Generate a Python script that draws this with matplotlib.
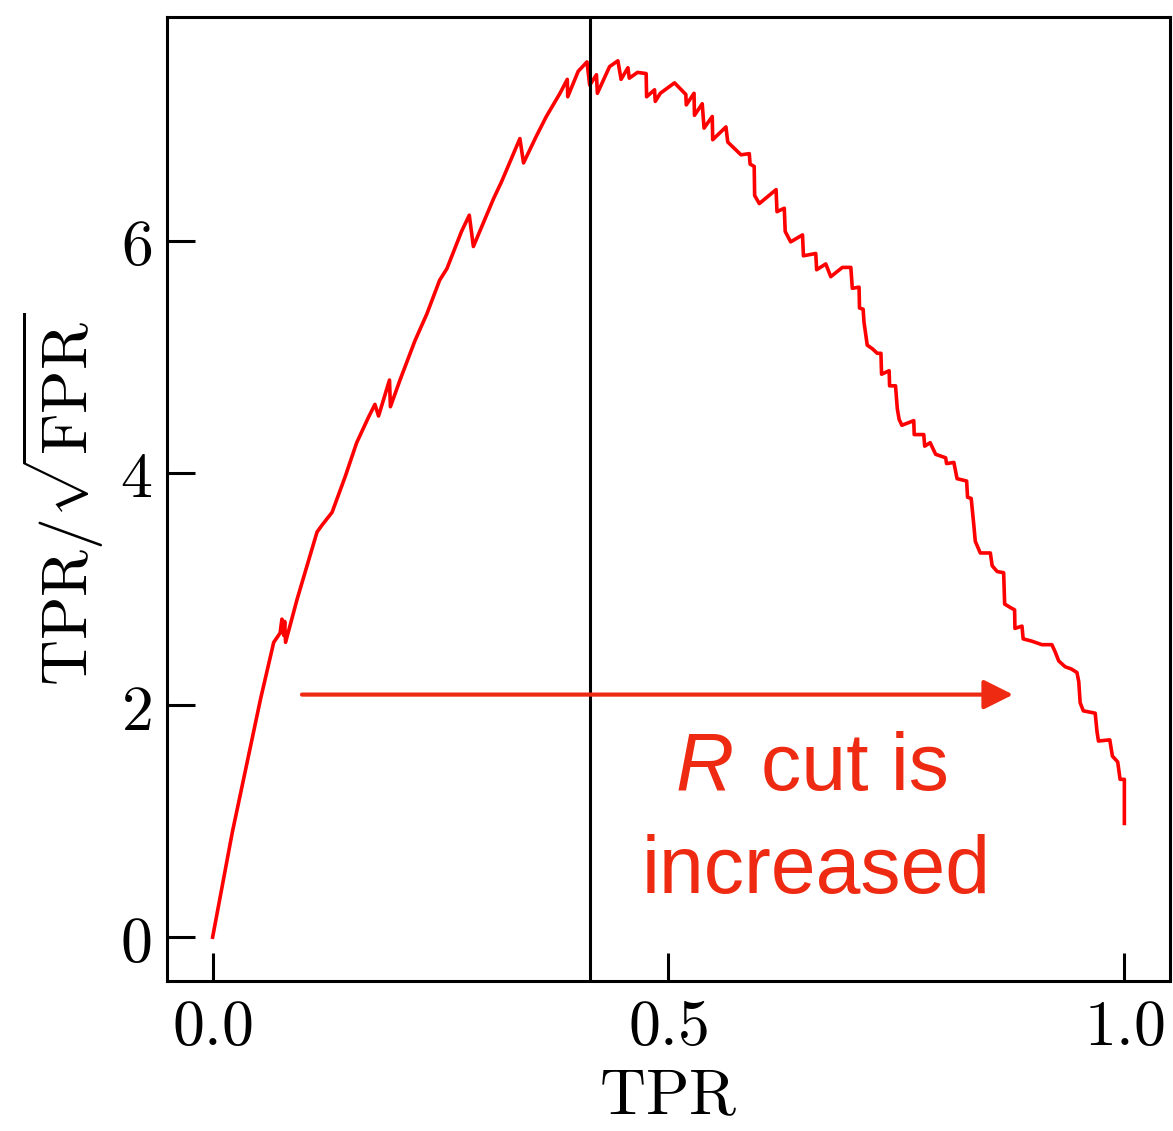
import matplotlib
matplotlib.use("Agg")
import matplotlib.pyplot as plt

# ── Curve (TPR vs TPR/sqrt(FPR)) ─────────────────────────────────────────────
tpr = [0.0, 0.0215, 0.0525, 0.067, 0.074, 0.076, 0.078, 0.079, 0.080, 0.0926,
       0.1036, 0.1145, 0.120, 0.131, 0.1455, 0.158, 0.171, 0.178, 0.182, 0.194,
       0.195, 0.206, 0.222, 0.235, 0.249, 0.257, 0.273, 0.2815, 0.286, 0.308,
       0.317, 0.337, 0.341, 0.355, 0.366, 0.381, 0.389, 0.3895, 0.401, 0.4106,
       0.4136, 0.421, 0.422, 0.4354, 0.4445, 0.448, 0.4555, 0.457, 0.466, 0.4755,
       0.476, 0.4847, 0.4855, 0.491, 0.5066, 0.519, 0.5195, 0.528, 0.5285, 0.537,
       0.539, 0.548, 0.5485, 0.563, 0.565, 0.5795, 0.5886, 0.5895, 0.594, 0.5945,
       0.5996, 0.618, 0.619, 0.627, 0.628, 0.634, 0.647, 0.648, 0.6615, 0.6625,
       0.6725, 0.678, 0.6907, 0.700, 0.7016, 0.709, 0.7095, 0.7135, 0.7144, 0.718,
       0.7235, 0.729, 0.733, 0.7337, 0.742, 0.7425, 0.749, 0.751, 0.753, 0.756,
       0.769, 0.7695, 0.780, 0.781, 0.787, 0.793, 0.804, 0.805, 0.813, 0.8165,
       0.827, 0.828, 0.832, 0.835, 0.8365, 0.842, 0.853, 0.855, 0.8605, 0.8676,
       0.8687, 0.875, 0.8796, 0.880, 0.8877, 0.889, 0.8986, 0.9096, 0.9205, 0.924,
       0.928, 0.935, 0.942, 0.948, 0.950, 0.9515, 0.955, 0.968, 0.970, 0.9716,
       0.984, 0.9869, 0.9927, 0.9953, 1.0, 1.0]
significance = [0.0, 0.90, 2.05, 2.54, 2.62, 2.74, 2.60, 2.72, 2.54, 2.91,
                3.20, 3.49, 3.55, 3.66, 3.97, 4.26, 4.48, 4.59, 4.49, 4.80,
                4.57, 4.81, 5.14, 5.37, 5.66, 5.76, 6.08, 6.22, 5.95, 6.36,
                6.51, 6.88, 6.67, 6.90, 7.07, 7.27, 7.39, 7.24, 7.46, 7.54,
                7.34, 7.43, 7.27, 7.50, 7.55, 7.39, 7.49, 7.40, 7.45, 7.44,
                7.24, 7.30, 7.20, 7.27, 7.36, 7.26, 7.17, 7.27, 7.08, 7.18,
                6.97, 7.07, 6.87, 6.98, 6.85, 6.74, 6.75, 6.66, 6.64, 6.39,
                6.32, 6.44, 6.25, 6.28, 6.08, 5.99, 6.05, 5.87, 5.89, 5.75,
                5.80, 5.69, 5.77, 5.77, 5.59, 5.60, 5.42, 5.41, 5.30, 5.10,
                5.07, 5.03, 5.03, 4.85, 4.88, 4.75, 4.75, 4.55, 4.46, 4.41,
                4.45, 4.33, 4.33, 4.23, 4.26, 4.16, 4.13, 4.08, 4.09, 3.95,
                3.93, 3.79, 3.78, 3.54, 3.41, 3.31, 3.31, 3.20, 3.15, 3.14,
                2.87, 2.84, 2.82, 2.66, 2.68, 2.57, 2.55, 2.52, 2.52, 2.46,
                2.38, 2.33, 2.31, 2.28, 2.20, 2.02, 1.95, 1.93, 1.77, 1.69,
                1.70, 1.56, 1.51, 1.36, 1.36, 0.98]

tpr_cut = 0.4136          # vertical marker
arrow_tpr = (0.098, 0.878)
arrow_sig = 2.09

xticks = [0.0, 0.5, 1.0]
yticks = [0, 2, 4, 6]

plt.rcParams["mathtext.fontset"] = "cm"
plt.rcParams["axes.linewidth"] = 2.2

text_red = "#ee2a12"
fs = 46

fig = plt.figure(figsize=(11.73, 11.31), dpi=100)
ax = fig.add_axes([0.1424, 0.1326, 0.855, 0.8524])

ax.plot(tpr, significance, color="#ff0000", lw=2.6)
ax.axvline(tpr_cut, color="black", lw=2.2)

ax.annotate("", xy=(arrow_tpr[1], arrow_sig), xytext=(arrow_tpr[0], arrow_sig),
            arrowprops=dict(arrowstyle="-|>,head_length=0.9,head_width=0.45",
                            mutation_scale=20, color=text_red, lw=3,
                            shrinkA=0, shrinkB=0))

sans = "Liberation Sans"
ax.text(0.571, 1.27, "R", color=text_red, fontsize=58, family=sans,
        style="italic", ha="right", va="baseline")
ax.text(0.601, 1.27, "cut is", color=text_red, fontsize=58, family=sans,
        ha="left", va="baseline")
ax.text(0.662, 0.38, "increased", color=text_red, fontsize=58, family=sans,
        ha="center", va="baseline")

ax.set_xticks(xticks)
ax.set_xticklabels([f"${t:.1f}$" for t in xticks])
ax.set_yticks(yticks)
ax.set_yticklabels([f"${t}$" for t in yticks])
ax.tick_params(direction="in", length=20, width=2.2, labelsize=fs, pad=11)
ax.minorticks_off()

ax.set_xlabel(r"$\mathrm{TPR}$", fontsize=fs, labelpad=5)
ax.set_ylabel(r"$\mathrm{TPR}/\sqrt{\mathrm{FPR}}$", fontsize=fs, labelpad=10)

fig.savefig("out.png", dpi=100)
